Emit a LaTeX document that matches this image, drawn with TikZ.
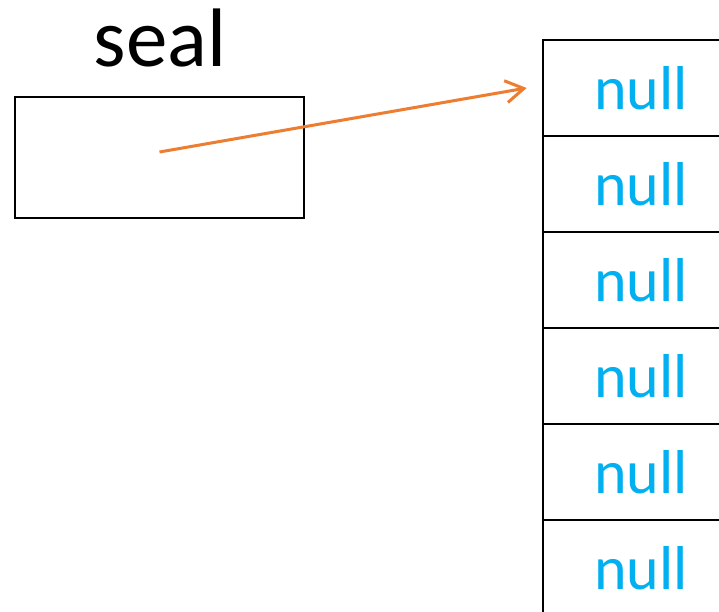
\documentclass[tikz,border=0pt]{standalone}
\usepackage{fontspec}
\setmainfont{Carlito}
\usetikzlibrary{arrows.meta}
\definecolor{arrowor}{HTML}{ED7D31}
\definecolor{nullblue}{HTML}{00B0F0}
\tikzset{
  refbox/.style={draw=black, line width=2.7pt, minimum width=289pt, minimum height=121pt, inner sep=0pt},
  cell/.style={draw=black, line width=2.7pt, minimum width=196pt, minimum height=96pt, inner sep=0pt,
    text=nullblue, font=\fontsize{62}{62}\selectfont},
  title/.style={font=\fontsize{83}{83}\selectfont, inner sep=0pt, anchor=base},
  ptr/.style={draw=arrowor, line width=3pt, -{Straight Barb[length=18pt, width=22pt, line width=3pt]}}
}
\begin{document}
\begin{tikzpicture}[x=1pt, y=-1pt]
\useasboundingbox (0,0) rectangle (719,612);
\clip (0,0) rectangle (719,612);
\fill[white] (0,0) rectangle (719,612);
\node[title] (lbl) at (160,67) {seal};
\node[refbox] (seal) at (159.5,157.5) {};
\node[cell] (r1) at (641,88) {null};
\node[cell] (r2) at (641,184) {null};
\node[cell] (r3) at (641,280) {null};
\node[cell] (r4) at (641,376) {null};
\node[cell] (r5) at (641,472) {null};
\node[cell] (r6) at (641,568) {null};
\coordinate (src) at ([yshift=5.5pt]seal.center);
\coordinate (dst) at ([xshift=-15pt]r1.west);
\draw[ptr] (src) -- (dst);
\end{tikzpicture}
\end{document}
